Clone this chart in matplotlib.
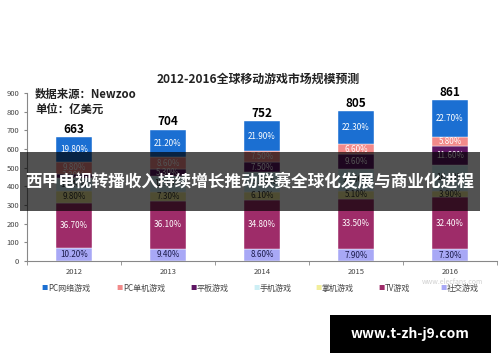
import matplotlib
matplotlib.use("Agg")
import matplotlib.pyplot as plt
from matplotlib.patches import Rectangle
import numpy as np

plt.rcParams['font.family'] = ['Noto Sans CJK SC', 'DejaVu Sans']

years = ['2012', '2013', '2014', '2015', '2016']
totals = [663, 704, 752, 805, 861]

# market share per segment in % (phone = remainder, hidden by banner)
social = [10.2, 9.4, 8.6, 7.9, 7.3]
tv = [36.7, 36.1, 34.8, 33.5, 32.4]
handheld = [9.8, 7.3, 6.1, 5.1, 3.9]
phone = [10.4, 12.1, 13.6, 15.0, 16.3]
tablet = [3.3, 5.3, 7.5, 9.6, 11.6]
pc_single = [9.8, 8.6, 7.5, 6.6, 5.8]
pc_online = [19.8, 21.2, 21.9, 22.3, 22.7]

legend_names = ['PC网络游戏', 'PC单机游戏', '平板游戏', '手机游戏', '掌机游戏', 'TV游戏', '社交游戏']

# bottom -> top
stack = [('社交游戏', social), ('TV游戏', tv), ('掌机游戏', handheld), ('手机游戏', phone),
         ('平板游戏', tablet), ('PC单机游戏', pc_single), ('PC网络游戏', pc_online)]

colors = {
    'PC网络游戏': '#1b6fd2',
    'PC单机游戏': '#f28a8a',
    '平板游戏': '#5e1763',
    '手机游戏': '#cdeff5',
    '掌机游戏': '#f2ee9b',
    'TV游戏': '#9e2c69',
    '社交游戏': '#a8a8f6',
}
label_colors = {
    'PC网络游戏': 'white', 'PC单机游戏': 'white', '平板游戏': 'white',
    '手机游戏': '#333333', '掌机游戏': '#333333', 'TV游戏': 'white', '社交游戏': '#1a1a4a',
}

fig = plt.figure(figsize=(5, 3.62), dpi=100)
ax = fig.add_axes([0.054, 0.279, 0.94, 0.464])

x = np.arange(len(years))
tot = np.array(totals, dtype=float)
bottom = np.zeros(len(years))
for name, share in stack:
    h = tot * np.array(share) / 100
    ax.bar(x, h, 0.39, bottom=bottom, color=colors[name], edgecolor='white', linewidth=0.3)
    for xi, b, hh, s in zip(x, bottom, h, share):
        ax.text(xi, b + hh / 2, f'{s:.2f}%', ha='center', va='center',
                fontsize=5.8, color=label_colors[name])
    bottom += h

for xi, t in zip(x, totals):
    ax.text(xi, t + 6, str(t), ha='center', va='bottom', fontsize=8.5, fontweight='bold')

ax.set_xlim(-0.5, 4.5)
ax.set_ylim(0, 900)
ax.set_yticks(range(0, 901, 100))
ax.set_xticks(x)
ax.set_xticklabels(years)
ax.set_xticks(np.arange(-0.5, 5, 1), minor=True)
ax.tick_params(axis='x', which='major', length=0, labelsize=5.5, labelcolor='#444', pad=5)
ax.tick_params(axis='x', which='minor', length=3, color='#888')
ax.tick_params(axis='y', length=2, color='#888', labelsize=5.5, labelcolor='#444')
for s in ['top', 'right']:
    ax.spines[s].set_visible(False)
for s in ['left', 'bottom']:
    ax.spines[s].set_color('#888')
    ax.spines[s].set_linewidth(0.8)

fig.text(0.516, 0.782, '2012-2016全球移动游戏市场规模预测', ha='center', va='center',
         fontsize=8.6, fontweight='bold', color='#222')
fig.text(0.07, 0.740, '数据来源：Newzoo', ha='left', va='center', fontsize=8.2,
         fontweight='bold', color='#222')
fig.text(0.07, 0.699, '单位：亿美元', ha='left', va='center', fontsize=8.2,
         fontweight='bold', color='#222')

# legend row
leg_x = [41, 116, 190, 253, 315, 378, 440]
for lx, name in zip(leg_x, legend_names):
    fig.text(lx / 500, 0.204, '■', color=colors[name], fontsize=4.5, ha='left', va='center')
    fig.text((lx + 7) / 500, 0.204, name, color='#444', fontsize=5.8, ha='left', va='center')

fig.text(0.905, 0.222, 'www.elecfans.com', color='#d0d0d0', fontsize=5, ha='center', va='center')

# overlay banner
fig.add_artist(Rectangle((0.04, 0.417), 0.92, 0.163, transform=fig.transFigure,
                         facecolor='black', edgecolor='none', alpha=0.68, zorder=10))
fig.text(0.5, 0.496, '西甲电视转播收入持续增长推动联赛全球化发展与商业化进程', ha='center',
         va='center', fontsize=12, fontweight='bold', color='white', zorder=11)

# site box
fig.add_artist(Rectangle((0.66, 0.025), 0.322, 0.105, transform=fig.transFigure,
                         facecolor='black', edgecolor='none', zorder=10))
fig.text(0.821, 0.077, 'www.t-zh-j9.com', ha='center', va='center', fontsize=10,
         fontweight='bold', color='white', zorder=11)

fig.savefig('out.png', dpi=100)
